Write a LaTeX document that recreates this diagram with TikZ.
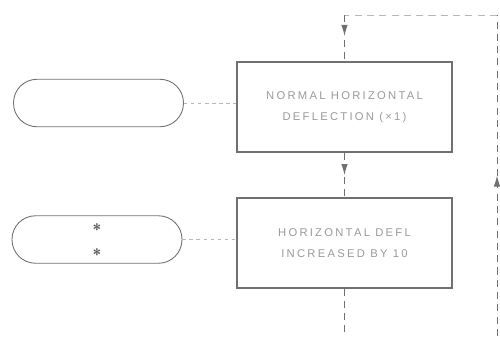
\documentclass[tikz,border=0pt]{standalone}
\usepackage{fontspec}
\usepackage{tikz}
\usetikzlibrary{arrows.meta,positioning,decorations.markings}
\newfontfamily\letterfont[LetterSpace=20]{Liberation Sans}
\definecolor{Ink}{HTML}{707070}
\definecolor{FaintInk}{HTML}{B8B8B8}
\definecolor{TextInk}{HTML}{9A9A9A}

\begin{document}
\begin{tikzpicture}[
  x=0.02cm, y=-0.02cm,
  opbox/.style={draw=Ink,line width=0.6pt,minimum width=4.3cm,minimum height=1.8cm,align=center,
    font=\letterfont\fontsize{6.4}{12}\selectfont,text=TextInk},
  keybox/.style={draw=Ink,line width=0.5pt,rounded corners=0.47cm,minimum width=3.4cm,minimum height=0.95cm},
  link/.style={draw=FaintInk,line width=0.4pt,dash pattern=on 2pt off 2pt},
  flow/.style={draw=Ink,line width=0.5pt,dash pattern=on 4pt off 3pt},
  midarrow/.style={postaction={decorate},decoration={markings,
    mark=at position #1 with {\arrow{Latex[length=2.2mm,width=1.3mm]}}}}
]
\useasboundingbox (0,0) rectangle (500,336);
% operating modes
\node[opbox] (normal) at (344.5,107) {NORMAL HORIZONTAL\\DEFLECTION (×1)};
\node[opbox] (magnify) at (344.5,243) {HORIZONTAL DEFL\\INCREASED BY 10};
% push buttons
\node[keybox] (keyone) at (98.5,103) {};
\node[keybox] (keytwo) at (97,239.5) {};
\node[font=\sffamily\bfseries\small,text=Ink!80!black,align=center,inner sep=0pt] (marks) at (97,242) {*\\[3pt]*};
\coordinate (loopin) at (497,336);
\coordinate (loopright) at (497,15);
\coordinate (loopleft) at (344.5,15);
\coordinate (exit) at (344.5,336);
\draw[link] (keyone.east) -- (keyone.east -| normal.west);
\draw[link] (keytwo.east) -- (keytwo.east -| magnify.west);
\draw[flow,midarrow=0.5] (loopin) -- (loopright);
\draw[flow,draw=FaintInk] (loopright) -- (loopleft);
\draw[flow,midarrow=0.45] (loopleft) -- (normal.north);
\draw[flow,midarrow=0.5] (normal.south) -- (magnify.north);
\draw[flow] (magnify.south) -- (exit);
\end{tikzpicture}
\end{document}
